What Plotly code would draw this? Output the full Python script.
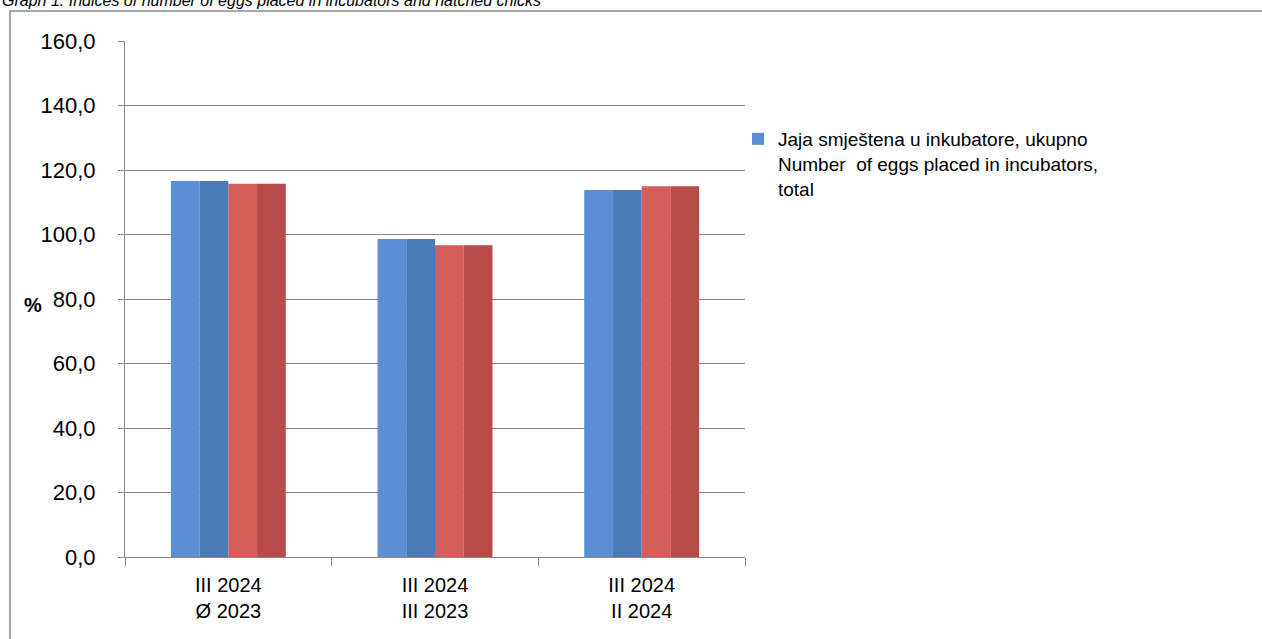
import plotly.graph_objects as go

categories = ["III 2024<br>Ø 2023", "III 2024<br>III 2023", "III 2024<br>II 2024"]
eggs = [116.6, 98.6, 113.8]
chicks = [115.7, 96.7, 115.0]
yticks = [0, 20, 40, 60, 80, 100, 120, 140, 160]
yticklabels = ["0,0", "20,0", "40,0", "60,0", "80,0", "100,0", "120,0", "140,0", "160,0"]

W, H = 1262, 639
L, R, T, B = 125, 745, 41, 557

def px(x):
    return (x - L) / (R - L)

def py(y):
    return (B - y) / (B - T)

FONT = "Liberation Sans, Arial"
BW = 0.278  # width of one series' bar (fraction of category)
HALF = BW / 2

fig = go.Figure()
# Blue series: lighter left half and darker right half (bevel look)
fig.add_trace(go.Bar(
    x=categories, y=eggs, width=HALF, offset=-BW,
    name="Jaja smještena u inkubatore, ukupno<br>Number  of eggs placed in incubators,<br>total",
    marker=dict(color="#5A8FD3", line=dict(width=0)),
    legendgroup="eggs",
))
fig.add_trace(go.Bar(
    x=categories, y=eggs, width=HALF, offset=-HALF, showlegend=False,
    marker=dict(color="#4A7AB8", line=dict(width=0)), legendgroup="eggs",
))
# Red series
fig.add_trace(go.Bar(
    x=categories, y=chicks, width=HALF, offset=0, showlegend=False,
    marker=dict(color="#D65E5A", line=dict(width=0)),
))
fig.add_trace(go.Bar(
    x=categories, y=chicks, width=HALF, offset=HALF, showlegend=False,
    marker=dict(color="#B84B48", line=dict(width=0)),
))

fig.update_layout(
    width=W, height=H,
    margin=dict(l=L, r=W - R, t=T, b=H - B, pad=0),
    paper_bgcolor="white", plot_bgcolor="white",
    barmode="overlay",
    font=dict(family=FONT, size=18, color="#000"),
    showlegend=True,
    legend=dict(x=px(738), y=py(120), xanchor="left", yanchor="top",
                font=dict(family=FONT, size=19, color="#000"),
                bgcolor="rgba(0,0,0,0)", valign="top", tracegroupgap=0),
    xaxis=dict(showline=True, linecolor="#888", linewidth=1,
               ticks="outside", ticklen=8, tickcolor="#888", tickson="boundaries",
               tickfont=dict(family=FONT, size=20), ticklabelstandoff=10,
               showgrid=False),
    yaxis=dict(range=[0, 160], tickvals=yticks, ticktext=yticklabels,
               showline=True, linecolor="#888", linewidth=1,
               ticks="outside", ticklen=6, tickcolor="#888",
               showgrid=True, gridcolor="#888", gridwidth=1,
               tickfont=dict(family=FONT, size=22), ticklabelstandoff=18,
               zeroline=False),
    shapes=[dict(type="rect", xref="paper", yref="paper",
                 x0=px(10), x1=px(1275), y0=py(650), y1=py(11),
                 line=dict(color="#888", width=1.5), layer="below")],
    annotations=[
        dict(text="<b>%</b>", xref="paper", yref="paper", x=px(22), y=py(305),
             showarrow=False, font=dict(family=FONT, size=20)),
        dict(text="<i>Graph 1. Indices of number of eggs placed in incubators and hatched chicks</i>",
             xref="paper", yref="paper", x=px(0), y=py(0), xanchor="left", yanchor="middle",
             showarrow=False, font=dict(family=FONT, size=16)),
    ],
)

fig.write_html(
    "out.html",
    config={"displayModeBar": False},
    post_script="document.body.style.margin='0';document.body.style.overflow='hidden';",
)
